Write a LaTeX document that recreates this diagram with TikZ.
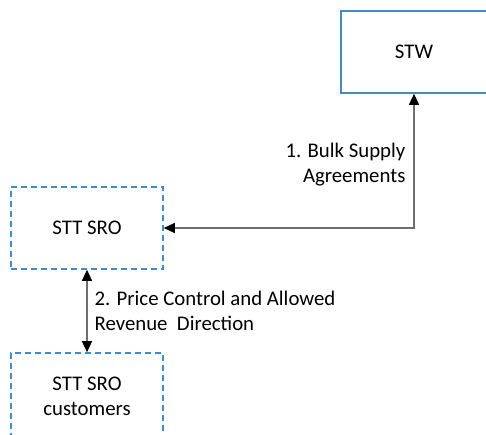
\documentclass[tikz,border=0pt]{standalone}
\usepackage{fontspec}
\setmainfont{Carlito}
\usetikzlibrary{calc}
\usetikzlibrary{arrows.meta}
\definecolor{bleuboite}{RGB}{65,140,200}
\definecolor{grisfleche}{RGB}{110,110,110}
\tikzstyle{boite}           =[draw=bleuboite, line width=1.6pt, minimum width=146pt, minimum height=82pt, align=center]
\tikzstyle{boitetiret}      =[boite, minimum width=152pt, dash pattern=on 6pt off 4pt]
\tikzstyle{fleche}          =[grisfleche, line width=1.3pt, {Triangle[length=11pt,width=10pt,color=black]}-{Triangle[length=11pt,width=10pt,color=black]}]
\tikzstyle{legende}         =[text=black, inner sep=0pt]

\begin{document}
\begin{tikzpicture}[x=1pt,y=-1pt,font=\fontsize{20.8}{25}\selectfont]

\clip (0,0) rectangle (486,434);

%%%%%%%%%%%%%%%%%%%%%%%%
%Les boites
%%%%%%%%%%%%%%%%%%%%%%%%

\node[boite] (stw) at (414,52) {STW};
\node[boitetiret] (sro) at (87,228) {STT SRO};
\node[boitetiret, minimum height=86pt] (clients) at (87,396) {STT SRO\\customers};

%%%%%%%%%%%%%%%%%%%%%%%%
%Les fleches
%%%%%%%%%%%%%%%%%%%%%%%%

\draw[fleche] (sro.east) -| (stw.south)
      node[legende, pos=0.735, left=8pt, align=right] {1. Bulk Supply\\Agreements};
\draw[fleche] (sro.south) -- (clients.north)
      node[legende, midway, right=7pt, align=left] {2. Price Control and Allowed\\Revenue~ Direction};

\end{tikzpicture}
\end{document}
